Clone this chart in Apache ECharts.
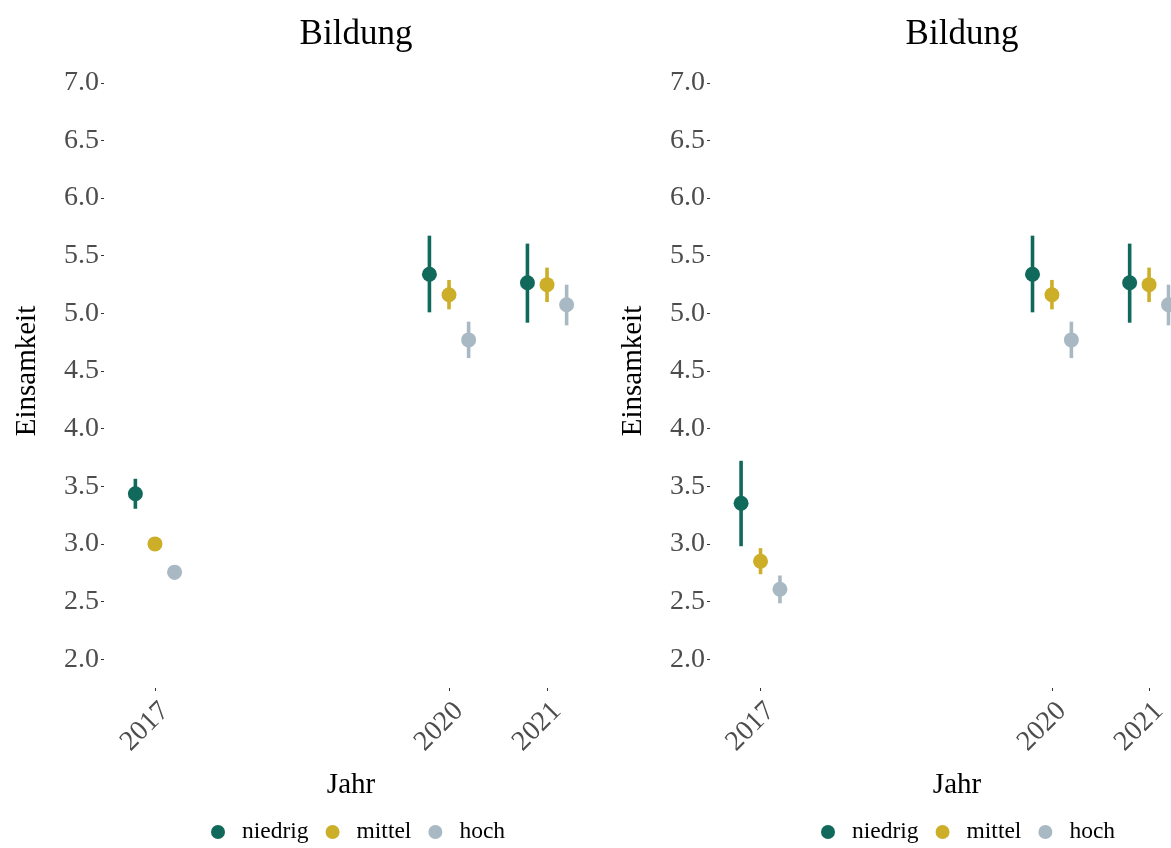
<!DOCTYPE html>
<html><head><meta charset="utf-8">
<script src="https://cdn.jsdelivr.net/npm/echarts@6/dist/echarts.min.js"></script>
<style>html,body{margin:0;padding:0;background:#fff}#c{width:1171px;height:848px}</style>
</head><body><div id="c"></div>
<script>
// ---- data ----
const years = [2017, 2020, 2021];
const groups = ['niedrig', 'mittel', 'hoch'];
const yTicks = [2.0, 2.5, 3.0, 3.5, 4.0, 4.5, 5.0, 5.5, 6.0, 6.5, 7.0];
const panelTitles = ['Bildung', 'Bildung'];

// left panel
const leftNiedrigMean = [3.435, 5.339, 5.266];
const leftNiedrigLow  = [3.305, 5.009, 4.919];
const leftNiedrigHigh = [3.565, 5.674, 5.605];
const leftMittelMean  = [3.000, 5.162, 5.249];
const leftMittelLow   = [2.980, 5.035, 5.098];
const leftMittelHigh  = [3.020, 5.290, 5.397];
const leftHochMean    = [2.755, 4.770, 5.075];
const leftHochLow     = [2.690, 4.612, 4.896];
const leftHochHigh    = [2.815, 4.928, 5.249];

// right panel
const rightNiedrigMean = [3.353, 5.339, 5.266];
const rightNiedrigLow  = [2.980, 5.009, 4.919];
const rightNiedrigHigh = [3.721, 5.674, 5.605];
const rightMittelMean  = [2.850, 5.162, 5.249];
const rightMittelLow   = [2.737, 5.035, 5.098];
const rightMittelHigh  = [2.963, 5.290, 5.397];
const rightHochMean    = [2.607, 4.770, 5.075];
const rightHochLow     = [2.485, 4.612, 4.896];
const rightHochHigh    = [2.726, 4.928, 5.249];

// ---- style ----
const colors = ['#10695A', '#CDAE29', '#A8B9C3'];
const dodge = [-0.2, 0, 0.2];
const FONT = '"Liberation Serif", "Times New Roman", serif';
const X_MIN = 2016.48, X_SPAN = 5.04, PANEL_W = 494, CANVAS_W = 1171;

const panels = [
  { means: [leftNiedrigMean, leftMittelMean, leftHochMean],
    lows:  [leftNiedrigLow, leftMittelLow, leftHochLow],
    highs: [leftNiedrigHigh, leftMittelHigh, leftHochHigh],
    left: 104, center: 351, legendLeft: 206 },
  { means: [rightNiedrigMean, rightMittelMean, rightHochMean],
    lows:  [rightNiedrigLow, rightMittelLow, rightHochLow],
    highs: [rightNiedrigHigh, rightMittelHigh, rightHochHigh],
    left: 710, center: 957, legendLeft: 816 }
];

const grids = [], xAxes = [], yAxes = [], series = [], titles = [], legends = [], graphics = [];
panels.forEach((p, pi) => {
  // the right panel is cut off by the canvas edge: keep the same scale, shorter visible width
  const w = Math.min(PANEL_W, CANVAS_W - p.left);
  const xMax = X_MIN + X_SPAN * w / PANEL_W;
  grids.push({ left: p.left, top: 54, width: w, height: 634, containLabel: false });
  xAxes.push({
    type: 'value', gridIndex: pi, min: X_MIN, max: xMax,
    axisLine: { show: false }, splitLine: { show: false },
    axisTick: { show: true, length: 3, customValues: years, lineStyle: { color: '#333', width: 1 } },
    axisLabel: { customValues: years, rotate: 45, margin: 9, align: 'right', verticalAlign: 'top',
      fontFamily: FONT, fontSize: 28, color: '#4D4D4D', formatter: v => String(v) }
  });
  yAxes.push({
    type: 'value', gridIndex: pi, min: 1.75, max: 7.25,
    name: 'Einsamkeit', nameLocation: 'middle', nameGap: 62,
    nameTextStyle: { fontFamily: FONT, fontSize: 29, color: '#000' },
    axisLine: { show: false }, splitLine: { show: false },
    axisTick: { show: true, length: 3, customValues: yTicks, lineStyle: { color: '#333', width: 1 } },
    axisLabel: { customValues: yTicks, margin: 5, fontFamily: FONT, fontSize: 28, color: '#4D4D4D',
      formatter: v => Number(v).toFixed(1) }
  });
  titles.push({ text: panelTitles[pi], left: p.center, top: 12, textAlign: 'center',
    textStyle: { fontFamily: FONT, fontSize: 35, fontWeight: 'normal', color: '#000' } });
  legends.push({ data: groups, left: p.legendLeft, top: 815, orient: 'horizontal',
    icon: 'circle', itemWidth: 14, itemHeight: 14, itemGap: 17,
    textStyle: { fontFamily: FONT, fontSize: 23.5, color: '#000', padding: [0, 0, 0, 12] } });
  graphics.push({ type: 'text', x: p.center, y: 785,
    style: { text: 'Jahr', fontFamily: FONT, fontSize: 29, fill: '#000', align: 'center', verticalAlign: 'middle' } });

  groups.forEach((g, gi) => {
    const col = colors[gi];
    series.push({
      name: g + '_err_' + pi, type: 'custom', xAxisIndex: pi, yAxisIndex: pi, z: 2, clip: false,
      data: years.map((y, i) => [y + dodge[gi], p.lows[gi][i], p.highs[gi][i]]),
      encode: { x: 0, y: [1, 2] },
      renderItem: (params, api) => {
        const a = api.coord([api.value(0), api.value(1)]);
        const b = api.coord([api.value(0), api.value(2)]);
        return { type: 'line', shape: { x1: a[0], y1: a[1], x2: b[0], y2: b[1] },
          style: { stroke: col, lineWidth: 3.6 } };
      },
      silent: true, itemStyle: { color: col }
    });
    series.push({
      name: g, type: 'scatter', xAxisIndex: pi, yAxisIndex: pi, z: 3, clip: false,
      symbol: 'circle', symbolSize: 15,
      itemStyle: { color: col, opacity: 1 },
      data: years.map((y, i) => [y + dodge[gi], p.means[gi][i]])
    });
  });
});

const chart = echarts.init(document.getElementById('c'), null, { renderer: 'canvas' });
chart.setOption({
  backgroundColor: '#fff', animation: false,
  title: titles, legend: legends, grid: grids, xAxis: xAxes, yAxis: yAxes, series: series,
  graphic: graphics
});
</script></body></html>
